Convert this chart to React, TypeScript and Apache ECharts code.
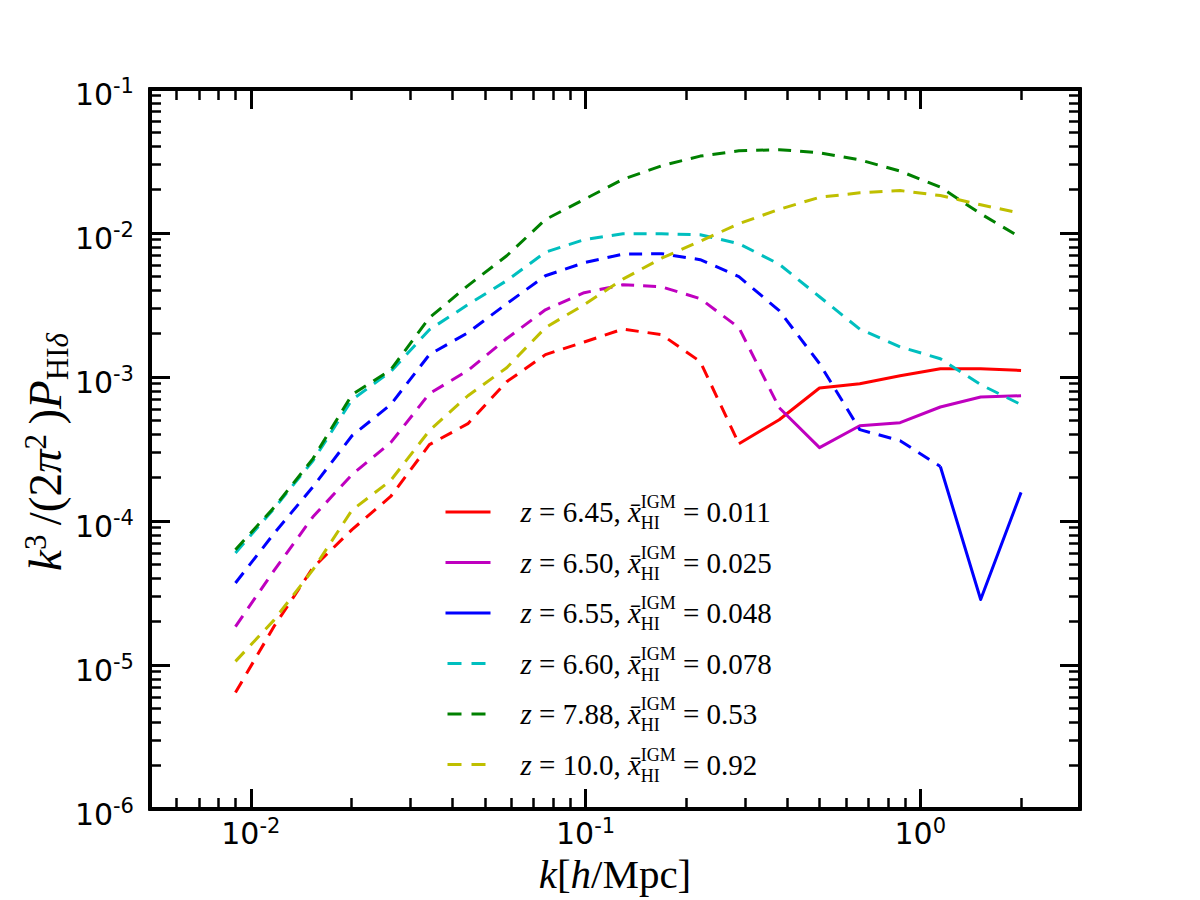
import React, { useEffect, useRef } from "react";
import * as echarts from "echarts";

// k [h/Mpc] sample points
const kValues = [0.009, 0.01173, 0.01534, 0.02006, 0.02618, 0.03416, 0.04454, 0.05816, 0.0759, 0.0991, 0.1293, 0.1687, 0.2201, 0.2872, 0.379, 0.5, 0.6596, 0.8704, 1.148, 1.515, 2.0];

// |k^3/(2pi^2) P_HIdelta| for each redshift
const pz645 = [6.43e-6, 1.85e-5, 4.74e-5, 8.71e-5, 1.48e-4, 3.39e-4, 4.74e-4, 9.28e-4, 1.43e-3, 1.75e-3, 2.15e-3, 1.97e-3, 1.28e-3, 3.44e-4, 5.05e-4, 8.39e-4, 8.98e-4, 1.02e-3, 1.14e-3, 1.14e-3, 1.11e-3];
const pz650 = [1.85e-5, 4.52e-5, 1.07e-4, 2.1e-4, 3.5e-4, 7.66e-4, 1.11e-3, 1.85e-3, 2.93e-3, 3.85e-3, 4.37e-3, 4.23e-3, 3.5e-3, 2.2e-3, 6.12e-4, 3.23e-4, 4.59e-4, 4.82e-4, 6.19e-4, 7.27e-4, 7.41e-4];
const pz655 = [3.71e-5, 8.18e-5, 1.73e-4, 3.91e-4, 6.43e-4, 1.43e-3, 2.03e-3, 3.23e-3, 5.05e-3, 6.22e-3, 7.13e-3, 7.18e-3, 6.53e-3, 4.98e-3, 2.89e-3, 1.24e-3, 4.31e-4, 3.61e-4, 2.39e-4, 2.85e-5, 1.58e-4];
const pz660 = [6.0e-5, 1.22e-4, 2.62e-4, 6.95e-4, 1.09e-3, 2.13e-3, 3.18e-3, 4.67e-3, 7.36e-3, 8.98e-3, 9.88e-3, 9.88e-3, 9.72e-3, 8.43e-3, 6.07e-3, 3.61e-3, 2.15e-3, 1.62e-3, 1.34e-3, 8.85e-4, 6.43e-4];
const pz788 = [6.32e-5, 1.24e-4, 2.71e-4, 7.53e-4, 1.12e-3, 2.58e-3, 4.31e-3, 6.95e-3, 1.24e-2, 1.71e-2, 2.36e-2, 2.93e-2, 3.42e-2, 3.72e-2, 3.79e-2, 3.61e-2, 3.22e-2, 2.69e-2, 2.08e-2, 1.36e-2, 9.27e-3];
const pz100 = [1.06e-5, 2.05e-5, 4.59e-5, 1.19e-4, 1.91e-4, 4.24e-4, 7.41e-4, 1.16e-3, 2.2e-3, 3.18e-3, 4.78e-3, 6.68e-3, 8.77e-3, 1.16e-2, 1.46e-2, 1.77e-2, 1.9e-2, 1.97e-2, 1.82e-2, 1.57e-2, 1.37e-2];

const redshifts = ["6.45", "6.50", "6.55", "6.60", "7.88", "10.0"];
const neutralFractions = ["0.011", "0.025", "0.048", "0.078", "0.53", "0.92"];
const powerValues = [pz645, pz650, pz655, pz660, pz788, pz100];
// index of the first point of the solid (positive) part; -1 = dashed everywhere
const solidFromIndex = [13, 14, 18, -1, -1, -1];
const lineColors = ["#ff0000", "#bf00bf", "#0000ff", "#00bfbf", "#008000", "#bfbf00"];

const xMajorTicks = [0.01, 0.1, 1];
const yMajorTicks = [1e-6, 1e-5, 1e-4, 1e-3, 1e-2, 1e-1];
const minorMultipliers = [2, 3, 4, 5, 6, 7, 8, 9];
const xMinorTicks = [0.006, 0.007, 0.008, 0.009]
  .concat([0.01, 0.1].flatMap((d) => minorMultipliers.map((m) => +(m * d).toPrecision(3))))
  .concat([2]);
const yMinorTicks = [1e-6, 1e-5, 1e-4, 1e-3, 1e-2].flatMap((d) =>
  minorMultipliers.map((m) => +(m * d).toPrecision(3))
);

const X_MIN = 0.005;
const X_MAX = 3;
const Y_MIN = 1e-6;
const Y_MAX = 1e-1;

const SERIF = "Liberation Serif";
const SANS = "DejaVu Sans";

const tickRich = {
  b: { fontFamily: SANS, fontSize: 30, lineHeight: 27, padding: [10, 0, 0, 0], color: "#000" },
  s: { fontFamily: SANS, fontSize: 21, verticalAlign: "top", color: "#000" },
};

function tickFormatter(v: number) {
  const e = Math.round(Math.log10(v));
  return `{b|10}{s|${e}}`;
}

const LEG = 29;
const LEG_SMALL = 18;
const LEG_LINE = 40;
const legendRich = {
  z0: { fontFamily: SERIF, fontStyle: "italic", fontSize: LEG, lineHeight: LEG_LINE, padding: [0, 0, 0, 25], color: "#000" },
  i: { fontFamily: SERIF, fontStyle: "italic", fontSize: LEG, lineHeight: LEG_LINE, color: "#000" },
  r: { fontFamily: SERIF, fontSize: LEG, lineHeight: LEG_LINE, color: "#000" },
  sub: { fontFamily: SERIF, fontSize: LEG_SMALL, verticalAlign: "bottom", padding: [0, -19, 0, 0], color: "#000" },
  sup: { fontFamily: SERIF, fontSize: LEG_SMALL, verticalAlign: "top", padding: [1, 0, 0, 0], color: "#000" },
};

export default function App() {
  const ref = useRef<HTMLDivElement>(null);

  useEffect(() => {
    if (!ref.current) return;
    const chart = echarts.init(ref.current, undefined, { renderer: "svg" });

    const names = redshifts.map((z, s) => `z=${z}, x̄_HI^IGM=${neutralFractions[s]}`);
    const legendTexts = redshifts.map(
      (z, s) => `{z0|z}{r| = ${z}, }{i|x\u0304}{sub|HI}{sup|IGM}{r| = ${neutralFractions[s]}}`
    );

    const series: any[] = [];
    redshifts.forEach((z, s) => {
      const color = lineColors[s];
      const vals = powerValues[s];
      const pts = kValues.map((k, i) => [k, vals[i]]);
      const sf = solidFromIndex[s];
      const dashedPts = sf >= 0 ? pts.slice(0, sf + 1) : pts;
      series.push({
        type: "line",
        name: sf >= 0 ? names[s] + " (negative)" : names[s],
        xAxisIndex: 0,
        yAxisIndex: 0,
        data: dashedPts,
        symbol: "none",
        lineStyle: { color, width: 3, type: [13, 9], join: "round" },
        itemStyle: { color },
        emphasis: { disabled: true },
      });
      if (sf >= 0) {
        series.push({
          type: "line",
          name: names[s],
          xAxisIndex: 0,
          yAxisIndex: 0,
          data: pts.slice(sf),
          symbol: "none",
          lineStyle: { color, width: 3, type: "solid", join: "round" },
          itemStyle: { color },
          emphasis: { disabled: true },
        });
      }
    });

    const legendData = names.map((name, s) =>
      solidFromIndex[s] >= 0
        ? { name }
        : { name, lineStyle: { type: [14, 10], dashOffset: 22 } }
    );

    const axisBase = (min: number, max: number) => ({
      type: "log",
      logBase: 10,
      min,
      max,
      axisLine: { show: true, onZero: false, lineStyle: { color: "#000", width: 4 } },
      splitLine: { show: false },
      minorTick: { show: false },
      minorSplitLine: { show: false },
    });

    const majorTick = (values: number[]) => ({
      show: true,
      inside: true,
      length: 20,
      customValues: values,
      lineStyle: { color: "#000", width: 3 },
    });
    const minorTick = (values: number[]) => ({
      show: true,
      inside: true,
      length: 11,
      customValues: values,
      lineStyle: { color: "#000", width: 2.5 },
    });

    const option: any = {
      animation: false,
      backgroundColor: "#ffffff",
      textStyle: { fontFamily: SANS },
      grid: { left: 150, top: 89, width: 930, height: 720, containLabel: false },
      xAxis: [
        {
          ...axisBase(X_MIN, X_MAX),
          position: "bottom",
          axisTick: majorTick(xMajorTicks),
          axisLabel: {
            show: true,
            customValues: xMajorTicks,
            formatter: tickFormatter,
            margin: 6,
            rich: tickRich,
          },
        },
        { ...axisBase(X_MIN, X_MAX), position: "bottom", axisTick: minorTick(xMinorTicks), axisLabel: { show: false } },
        { ...axisBase(X_MIN, X_MAX), position: "top", axisTick: majorTick(xMajorTicks), axisLabel: { show: false } },
        { ...axisBase(X_MIN, X_MAX), position: "top", axisTick: minorTick(xMinorTicks), axisLabel: { show: false } },
      ],
      yAxis: [
        {
          ...axisBase(Y_MIN, Y_MAX),
          position: "left",
          axisTick: majorTick(yMajorTicks),
          axisLabel: {
            show: true,
            customValues: yMajorTicks,
            formatter: tickFormatter,
            margin: 16,
            rich: tickRich,
          },
        },
        { ...axisBase(Y_MIN, Y_MAX), position: "left", axisTick: minorTick(yMinorTicks), axisLabel: { show: false } },
        { ...axisBase(Y_MIN, Y_MAX), position: "right", axisTick: majorTick(yMajorTicks), axisLabel: { show: false } },
        { ...axisBase(Y_MIN, Y_MAX), position: "right", axisTick: minorTick(yMinorTicks), axisLabel: { show: false } },
      ],
      legend: {
        orient: "vertical",
        left: 444,
        top: 493,
        padding: 0,
        itemWidth: 45,
        itemHeight: 14,
        itemGap: 11.5,
        selectedMode: false,
        data: legendData,
        lineStyle: { width: 3 },
        itemStyle: { opacity: 0, borderWidth: 0 },
        formatter: (name: string) => legendTexts[names.indexOf(name)],
        textStyle: { rich: legendRich, color: "#000" },
      },
      graphic: [
        {
          type: "text",
          x: 615,
          y: 874,
          style: {
            text: "{i|k}{r|[}{i|h}{r|/Mpc]}",
            align: "center",
            verticalAlign: "middle",
            fill: "#000",
            rich: {
              i: { fontFamily: SERIF, fontStyle: "italic", fontSize: 41, lineHeight: 41, fill: "#000" },
              r: { fontFamily: SERIF, fontSize: 41, lineHeight: 41, fill: "#000" },
            },
          },
        },
        {
          type: "text",
          x: 45,
          y: 452,
          rotation: Math.PI / 2,
          style: {
            text: "{i|k}{p|3}{r|\u2009/(2}{i|π}{p|2}{r|\u2009)}{i|P}{b|HI}{bi|δ}",
            align: "center",
            verticalAlign: "middle",
            fill: "#000",
            rich: {
              i: { fontFamily: SERIF, fontStyle: "italic", fontSize: 47, lineHeight: 56, fill: "#000" },
              r: { fontFamily: SERIF, fontSize: 47, lineHeight: 56, fill: "#000" },
              p: { fontFamily: SERIF, fontSize: 31, verticalAlign: "top", padding: [3, 0, 0, 0], fill: "#000" },
              b: { fontFamily: SERIF, fontSize: 31, verticalAlign: "bottom", fill: "#000" },
              bi: { fontFamily: SERIF, fontStyle: "italic", fontSize: 31, verticalAlign: "bottom", fill: "#000" },
            },
          },
        },
      ],
      series,
    };

    chart.setOption(option);
    return () => chart.dispose();
  }, []);

  return (
    <div
      ref={ref}
      style={{ position: "absolute", left: 0, top: 0, width: 1200, height: 900, background: "#fff" }}
    />
  );
}
